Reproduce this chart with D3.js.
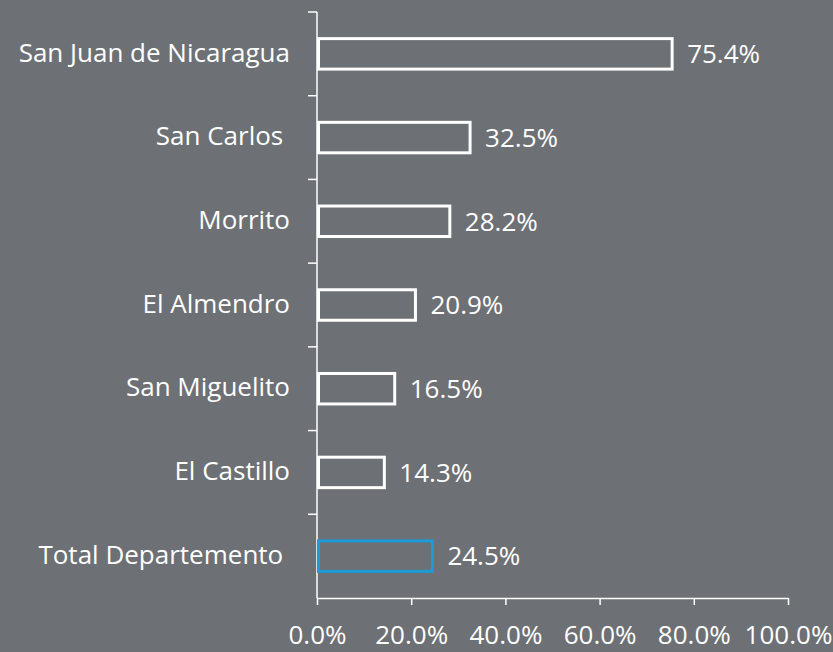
<!DOCTYPE html>
<html>
<head>
<meta charset="utf-8">
<script src="https://cdn.jsdelivr.net/npm/d3@7"></script>
<style>
	html, body { margin: 0; padding: 0; background: #6d7074; }
	svg { display: block; font-family: "Open Sans", sans-serif; }
	text { white-space: pre; }
</style>
</head>
<body>
<svg class="chart" width="833" height="652"></svg>
<script>
////////////////////////////////////////////////////////////
//// Data //////////////////////////////////////////////////
////////////////////////////////////////////////////////////
const categories = [
	"San Juan de Nicaragua",
	"San Carlos ",
	"Morrito",
	"El Almendro",
	"San Miguelito",
	"El Castillo",
	"Total Departemento "
];
const values = [0.754, 0.325, 0.282, 0.209, 0.165, 0.143, 0.245];
const xTicks = [0, 0.2, 0.4, 0.6, 0.8, 1.0];

////////////////////////////////////////////////////////////
//// Setup /////////////////////////////////////////////////
////////////////////////////////////////////////////////////
const svg = d3.select(".chart");
const margin = { top: 12, right: 45, bottom: 54, left: 317 };
const width = 833 - margin.left - margin.right;
const height = 652 - margin.top - margin.bottom;
const fontSize = 26;
const white = "#ffffff";
const blue = "#1b9bd7";

const data = categories.map((c, i) => ({ name: c, value: values[i] }));

const x = d3.scaleLinear().domain([0, 1]).range([0, width]);
const y = d3
	.scaleBand()
	.domain(categories)
	.range([0, height])
	.paddingInner(0.6)
	.paddingOuter(0.3);

const g = svg
	.append("g")
	.attr("transform", `translate(${margin.left},${margin.top})`);

////////////////////////////////////////////////////////////
//// Axes //////////////////////////////////////////////////
////////////////////////////////////////////////////////////
const xAxis = g
	.append("g")
	.attr("transform", `translate(0,${height})`)
	.call(
		d3
			.axisBottom(x)
			.tickValues(xTicks)
			.tickFormat(d3.format(".1%"))
			.tickSize(7)
			.tickSizeOuter(0)
			.tickPadding(21)
	);
xAxis.select(".domain").attr("stroke", white).attr("stroke-width", 1.5);
xAxis.selectAll(".tick line").attr("stroke", white).attr("stroke-width", 1.5);
xAxis
	.selectAll(".tick text")
	.attr("fill", white)
	.attr("font-family", "Open Sans, sans-serif")
	.attr("font-size", fontSize);

// y axis line with ticks between categories
const yAxis = g.append("g");
yAxis
	.append("line")
	.attr("x1", 0)
	.attr("x2", 0)
	.attr("y1", 0)
	.attr("y2", height)
	.attr("stroke", white)
	.attr("stroke-width", 1.5);
const step = y.step();
yAxis
	.selectAll("line.tick")
	.data(d3.range(categories.length))
	.join("line")
	.attr("class", "tick")
	.attr("x1", -9)
	.attr("x2", 0)
	.attr("y1", i => i * step)
	.attr("y2", i => i * step)
	.attr("stroke", white)
	.attr("stroke-width", 1.5);

yAxis
	.selectAll("text")
	.data(data)
	.join("text")
	.attr("x", -27)
	.attr("y", d => y(d.name) + y.bandwidth() / 2 - 1.5)
	.attr("dy", "0.357em")
	.attr("text-anchor", "end")
	.attr("fill", white)
	.attr("font-size", fontSize)
	.text(d => d.name);

////////////////////////////////////////////////////////////
//// Bars //////////////////////////////////////////////////
////////////////////////////////////////////////////////////
const bars = g.append("g");
bars
	.selectAll("rect")
	.data(data)
	.join("rect")
	.attr("x", 1.5)
	.attr("y", d => y(d.name) + 1.5)
	.attr("width", d => x(d.value) - 1.5)
	.attr("height", y.bandwidth() - 3)
	.attr("fill", "none")
	.attr("stroke", (d, i) => (i === data.length - 1 ? blue : white))
	.attr("stroke-width", 3);

bars
	.selectAll("text")
	.data(data)
	.join("text")
	.attr("x", d => x(d.value) + 15)
	.attr("y", d => y(d.name) + y.bandwidth() / 2)
	.attr("dy", "0.357em")
	.attr("fill", white)
	.attr("font-size", fontSize)
	.text(d => d3.format(".1%")(d.value));
</script>
</body>
</html>
